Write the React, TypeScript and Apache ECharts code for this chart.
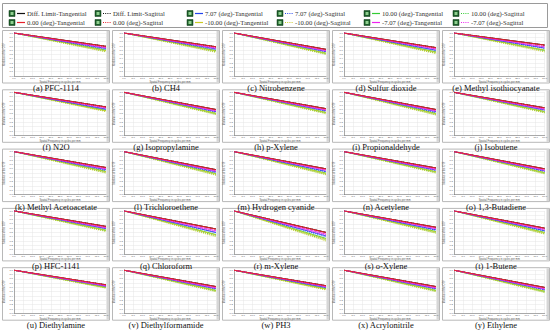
import React, { useEffect, useRef } from "react";
import * as echarts from "echarts";

const captions = [
  "(a) PFC-1114", "(b) CH4", "(c) Nitrobenzene", "(d) Sulfur dioxide", "(e) Methyl isothiocyanate",
  "(f) N2O", "(g) Isopropylamine", "(h) p-Xylene", "(i) Propionaldehyde", "(j) Isobutene",
  "(k) Methyl Acetoacetate", "(l) Trichloroethene", "(m) Hydrogen cyanide", "(n) Acetylene", "(o) 1,3-Butadiene",
  "(p) HFC-1141", "(q) Chloroform", "(r) m-Xylene", "(s) o-Xylene", "(t) 1-Butene",
  "(u) Diethylamine", "(v) Diethylformamide", "(w) PH3", "(x) Acrylonitrile", "(y) Ethylene",
];

// spatial frequency range (cycles per mm)
const freqMin = 0;
const freqMax = 50;
const freqStep = 5;

// value of every curve at zero frequency
const mtfAtZero = 1.0;

// MTF value at the maximum frequency, one per panel (a..y)
const diffLimitT = [0.69, 0.68, 0.62, 0.66, 0.72, 0.66, 0.60, 0.62, 0.60, 0.64, 0.63, 0.58, 0.60, 0.62, 0.60, 0.64, 0.58, 0.50, 0.62, 0.60, 0.66, 0.62, 0.64, 0.62, 0.60];
const diffLimitS = [0.69, 0.68, 0.62, 0.66, 0.72, 0.66, 0.60, 0.62, 0.60, 0.64, 0.63, 0.58, 0.60, 0.62, 0.60, 0.64, 0.58, 0.50, 0.62, 0.60, 0.66, 0.62, 0.64, 0.62, 0.60];
const deg0T = [0.69, 0.68, 0.62, 0.66, 0.72, 0.66, 0.60, 0.62, 0.60, 0.64, 0.63, 0.58, 0.60, 0.62, 0.60, 0.64, 0.58, 0.50, 0.62, 0.60, 0.66, 0.62, 0.64, 0.62, 0.60];
const deg0S = [0.68, 0.67, 0.61, 0.65, 0.71, 0.65, 0.59, 0.61, 0.59, 0.63, 0.62, 0.57, 0.59, 0.61, 0.59, 0.63, 0.57, 0.49, 0.61, 0.59, 0.66, 0.61, 0.63, 0.61, 0.59];
const degM707T = [0.66, 0.65, 0.59, 0.63, 0.68, 0.64, 0.57, 0.59, 0.57, 0.61, 0.60, 0.55, 0.57, 0.59, 0.57, 0.61, 0.54, 0.46, 0.59, 0.57, 0.64, 0.59, 0.62, 0.59, 0.57];
const degM707S = [0.65, 0.64, 0.58, 0.62, 0.67, 0.62, 0.56, 0.58, 0.56, 0.60, 0.59, 0.54, 0.56, 0.58, 0.56, 0.60, 0.52, 0.44, 0.58, 0.56, 0.63, 0.58, 0.61, 0.58, 0.56];
const deg707T = [0.64, 0.63, 0.57, 0.60, 0.65, 0.61, 0.55, 0.57, 0.55, 0.59, 0.58, 0.53, 0.54, 0.57, 0.55, 0.59, 0.50, 0.42, 0.56, 0.54, 0.63, 0.57, 0.60, 0.57, 0.55];
const deg707S = [0.62, 0.61, 0.56, 0.59, 0.64, 0.60, 0.54, 0.56, 0.53, 0.58, 0.56, 0.51, 0.53, 0.56, 0.54, 0.58, 0.49, 0.40, 0.55, 0.53, 0.62, 0.56, 0.59, 0.56, 0.54];
const deg10T = [0.60, 0.59, 0.53, 0.56, 0.60, 0.58, 0.51, 0.53, 0.51, 0.55, 0.54, 0.49, 0.50, 0.53, 0.51, 0.55, 0.45, 0.36, 0.52, 0.50, 0.60, 0.53, 0.57, 0.53, 0.51];
const degM10T = [0.59, 0.58, 0.53, 0.55, 0.60, 0.57, 0.51, 0.53, 0.50, 0.55, 0.53, 0.48, 0.49, 0.53, 0.51, 0.55, 0.44, 0.34, 0.51, 0.49, 0.60, 0.53, 0.56, 0.53, 0.51];
const deg10S = [0.57, 0.56, 0.51, 0.53, 0.58, 0.56, 0.49, 0.51, 0.48, 0.53, 0.51, 0.46, 0.47, 0.51, 0.49, 0.53, 0.42, 0.32, 0.49, 0.47, 0.59, 0.51, 0.55, 0.51, 0.49];
const degM10S = [0.56, 0.55, 0.50, 0.52, 0.56, 0.55, 0.48, 0.50, 0.47, 0.52, 0.50, 0.45, 0.46, 0.50, 0.48, 0.52, 0.40, 0.30, 0.48, 0.46, 0.58, 0.50, 0.54, 0.50, 0.48];

type Curve = { name: string; color: string; dotted: boolean; ends: number[] };

const curves: Curve[] = [
  { name: "Diff. Limit-Tangential", color: "#111111", dotted: false, ends: diffLimitT },
  { name: "Diff. Limit-Sagittal", color: "#111111", dotted: true, ends: diffLimitS },
  { name: "10.00 (deg)-Tangential", color: "#33cc33", dotted: false, ends: deg10T },
  { name: "10.00 (deg)-Sagittal", color: "#33cc33", dotted: true, ends: deg10S },
  { name: "-10.00 (deg)-Tangential", color: "#cccc22", dotted: false, ends: degM10T },
  { name: "-10.00 (deg)-Sagittal", color: "#cccc22", dotted: true, ends: degM10S },
  { name: "7.07 (deg)-Tangential", color: "#2244ee", dotted: false, ends: deg707T },
  { name: "7.07 (deg)-Sagittal", color: "#2244ee", dotted: true, ends: deg707S },
  { name: "-7.07 (deg)-Tangential", color: "#ee22ee", dotted: false, ends: degM707T },
  { name: "-7.07 (deg)-Sagittal", color: "#ee22ee", dotted: true, ends: degM707S },
  { name: "0.00 (deg)-Tangential", color: "#e8202a", dotted: false, ends: deg0T },
  { name: "0.00 (deg)-Sagittal", color: "#e8202a", dotted: true, ends: deg0S },
];

const legendRows = [
  ["Diff. Limit-Tangential", "Diff. Limit-Sagittal", "7.07 (deg)-Tangential", "7.07 (deg)-Sagittal", "10.00 (deg)-Tangential", "10.00 (deg)-Sagittal"],
  ["0.00 (deg)-Tangential", "0.00 (deg)-Sagittal", "-10.00 (deg)-Tangential", "-10.00 (deg)-Sagittal", "-7.07 (deg)-Tangential", "-7.07 (deg)-Sagittal"],
];

const SERIF = "'Liberation Serif', 'DejaVu Serif', serif";

function buildOption() {
  const grids: any[] = [];
  const xAxes: any[] = [];
  const yAxes: any[] = [];
  const series: any[] = [];
  const graphics: any[] = [];

  // legend box
  graphics.push({
    type: "rect", z: 0,
    shape: { x: 2.5, y: 3.5, width: 545, height: 24 },
    style: { fill: "#fff", stroke: "#9a9a9a", lineWidth: 1 },
  });
  const legendX = [9, 95, 187, 277, 364, 453];
  const legendY = [13.5, 22.5];
  legendRows.forEach((row, r) => {
    row.forEach((name, c) => {
      const cv = curves.find((k) => k.name === name)!;
      const x = legendX[c];
      const y = legendY[r];
      graphics.push({
        type: "rect", z: 5,
        shape: { x, y: y - 3, width: 6, height: 6 },
        style: { fill: "#1d5e2a", stroke: "#0d3a16", lineWidth: 0.5 },
      });
      graphics.push({
        type: "rect", z: 6,
        shape: { x: x + 1.5, y: y - 1.5, width: 3, height: 3 },
        style: { fill: "#8fcf8f" },
      });
      graphics.push({
        type: "line", z: 5,
        shape: { x1: x + 8, y1: y, x2: x + 16, y2: y },
        style: { stroke: cv.color, lineWidth: 1.2, lineDash: cv.dotted ? [1, 1.2] : null },
      });
      graphics.push({
        type: "text", z: 5,
        x: x + 18, y,
        style: { text: name, fill: "#333", font: `6.7px ${SERIF}`, verticalAlign: "middle" },
      });
    });
  });

  captions.forEach((cap, i) => {
    const r = Math.floor(i / 5);
    const c = i % 5;
    const fx = 2 + 110 * c;
    const fy = 30 + 59.3 * r;
    // panel frame
    graphics.push({
      type: "rect", z: 0,
      shape: { x: fx + 0.5, y: fy + 0.5, width: 107, height: 52.5 },
      style: { fill: "#fff", stroke: "#b8b8b8", lineWidth: 1 },
    });
    graphics.push({
      type: "rect", z: 0,
      shape: { x: fx + 104.5, y: fy + 1, width: 2.5, height: 51.5 },
      style: { fill: "#d6d6d6" },
    });
    graphics.push({
      type: "text", z: 5,
      x: fx + 54, y: fy + 58,
      style: { text: cap, fill: "#111", font: `8.5px ${SERIF}`, align: "center", verticalAlign: "middle" },
    });

    grids.push({ left: 14 + 110 * c, top: 33 + 59.3 * r, width: 92, height: 43 });
    xAxes.push({
      type: "value", gridIndex: i, min: freqMin, max: freqMax, interval: freqStep,
      name: "Spatial Frequency in cycles per mm", nameLocation: "middle", nameGap: 4.5,
      nameTextStyle: { fontSize: 2.6, color: "#555" },
      axisLine: { lineStyle: { color: "#777", width: 0.6 } },
      axisTick: { show: false },
      axisLabel: { fontSize: 2.4, color: "#555", margin: 1.2, formatter: (v: number) => v.toFixed(1) },
      splitLine: { show: true, lineStyle: { color: "#e4e4e4", width: 0.5 } },
    });
    yAxes.push({
      type: "value", gridIndex: i, min: 0, max: 1, interval: 0.1,
      name: "Modulus of the OTF", nameLocation: "middle", nameGap: 7,
      nameTextStyle: { fontSize: 2.6, color: "#555" },
      axisLine: { show: true, lineStyle: { color: "#777", width: 0.6 } },
      axisTick: { show: false },
      axisLabel: { fontSize: 2.4, color: "#555", margin: 1.2, formatter: (v: number) => v.toFixed(1) },
      splitLine: { show: true, lineStyle: { color: "#e4e4e4", width: 0.5 } },
    });
    curves.forEach((cv) => {
      series.push({
        type: "line", name: cv.name, xAxisIndex: i, yAxisIndex: i,
        data: [[freqMin, mtfAtZero], [freqMax, cv.ends[i]]],
        symbol: "none", silent: true,
        lineStyle: { color: cv.color, width: 0.9, type: cv.dotted ? [1, 1] : "solid" },
      });
    });
  });

  return {
    animation: false,
    backgroundColor: "#ffffff",
    grid: grids,
    xAxis: xAxes,
    yAxis: yAxes,
    series,
    graphic: graphics,
  };
}

export default function App() {
  const ref = useRef<HTMLDivElement>(null);
  useEffect(() => {
    if (!ref.current) return;
    const chart = echarts.init(ref.current, undefined, { renderer: "svg" });
    chart.setOption(buildOption() as any);
    return () => chart.dispose();
  }, []);
  return <div ref={ref} style={{ width: 550, height: 330, position: "absolute", left: 0, top: 0 }} />;
}
